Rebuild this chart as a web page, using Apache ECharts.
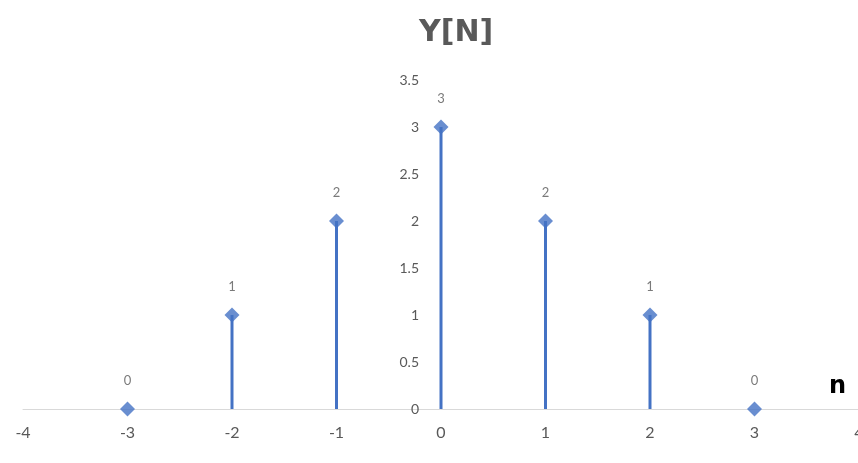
<!DOCTYPE html>
<html>
<head>
<meta charset="utf-8">
<script src="https://cdn.jsdelivr.net/npm/echarts@6/dist/echarts.min.js"></script>
<style>
  html, body { margin: 0; padding: 0; background: #fff; }
  #chart { width: 858px; height: 463px; }
</style>
</head>
<body>
<div id="chart"></div>
<script>
// Discrete signal samples y[n]
const nValues = [-3, -2, -1, 0, 1, 2, 3];
const yValues = [0, 1, 2, 3, 2, 1, 0];

const xTicks = { min: -4, max: 4, interval: 1 };
const yTicks = { min: 0, max: 3.5, interval: 0.5 };

const blue = '#4472C4';
const gray = '#595959';

const points = nValues.map((n, i) => [n, yValues[i]]);

const chart = echarts.init(document.getElementById('chart'), null, { renderer: 'canvas' });

chart.setOption({
  animation: false,
  title: {
    text: 'Y[N]',
    left: 414,
    top: 13,
    textStyle: { fontFamily: 'DejaVu Sans', fontWeight: 'bold', fontSize: 30, color: gray }
  },
  grid: { left: 23, right: -1, top: 80, bottom: 54, containLabel: false, outerBoundsMode: 'none' },
  xAxis: {
    type: 'value',
    min: xTicks.min, max: xTicks.max, interval: xTicks.interval,
    axisLine: { show: true, onZero: false, lineStyle: { color: '#d9d9d9', width: 1 } },
    axisTick: { show: false },
    splitLine: { show: false },
    axisLabel: { margin: 16, color: gray, fontSize: 16, fontFamily: 'Lato' }
  },
  yAxis: {
    type: 'value',
    min: yTicks.min, max: yTicks.max, interval: yTicks.interval,
    axisLine: { show: false },
    axisTick: { show: false },
    splitLine: { show: false },
    axisLabel: {
      margin: 22, color: gray, fontSize: 14, fontFamily: 'Lato',
      formatter: v => String(v)
    }
  },
  graphic: [{
    type: 'text',
    left: 829,
    top: 375,
    style: { text: 'n', font: 'bold 24px "DejaVu Sans"', fill: '#000' }
  }],
  series: [
    {
      // vertical stems from the axis to each sample
      type: 'custom',
      data: points,
      renderItem: function (params, api) {
        const base = api.coord([api.value(0), 0]);
        const top = api.coord([api.value(0), api.value(1)]);
        return {
          type: 'line',
          shape: { x1: base[0], y1: base[1], x2: top[0], y2: top[1] },
          style: { stroke: blue, lineWidth: 3 }
        };
      },
      z: 2
    },
    {
      // sample markers with value labels
      type: 'scatter',
      data: points,
      symbol: 'diamond',
      symbolSize: 15,
      itemStyle: { color: blue },
      label: {
        show: true,
        position: 'top',
        distance: 14,
        color: gray,
        fontSize: 13,
        fontFamily: 'Lato',
        formatter: p => String(p.value[1])
      },
      z: 3
    }
  ]
});

// Move the vertical axis so it crosses the horizontal axis at n = 0
const zeroPx = chart.convertToPixel({ xAxisIndex: 0 }, 0);
const leftPx = chart.convertToPixel({ xAxisIndex: 0 }, xTicks.min);
chart.setOption({ yAxis: { offset: -(zeroPx - leftPx) } });
</script>
</body>
</html>
